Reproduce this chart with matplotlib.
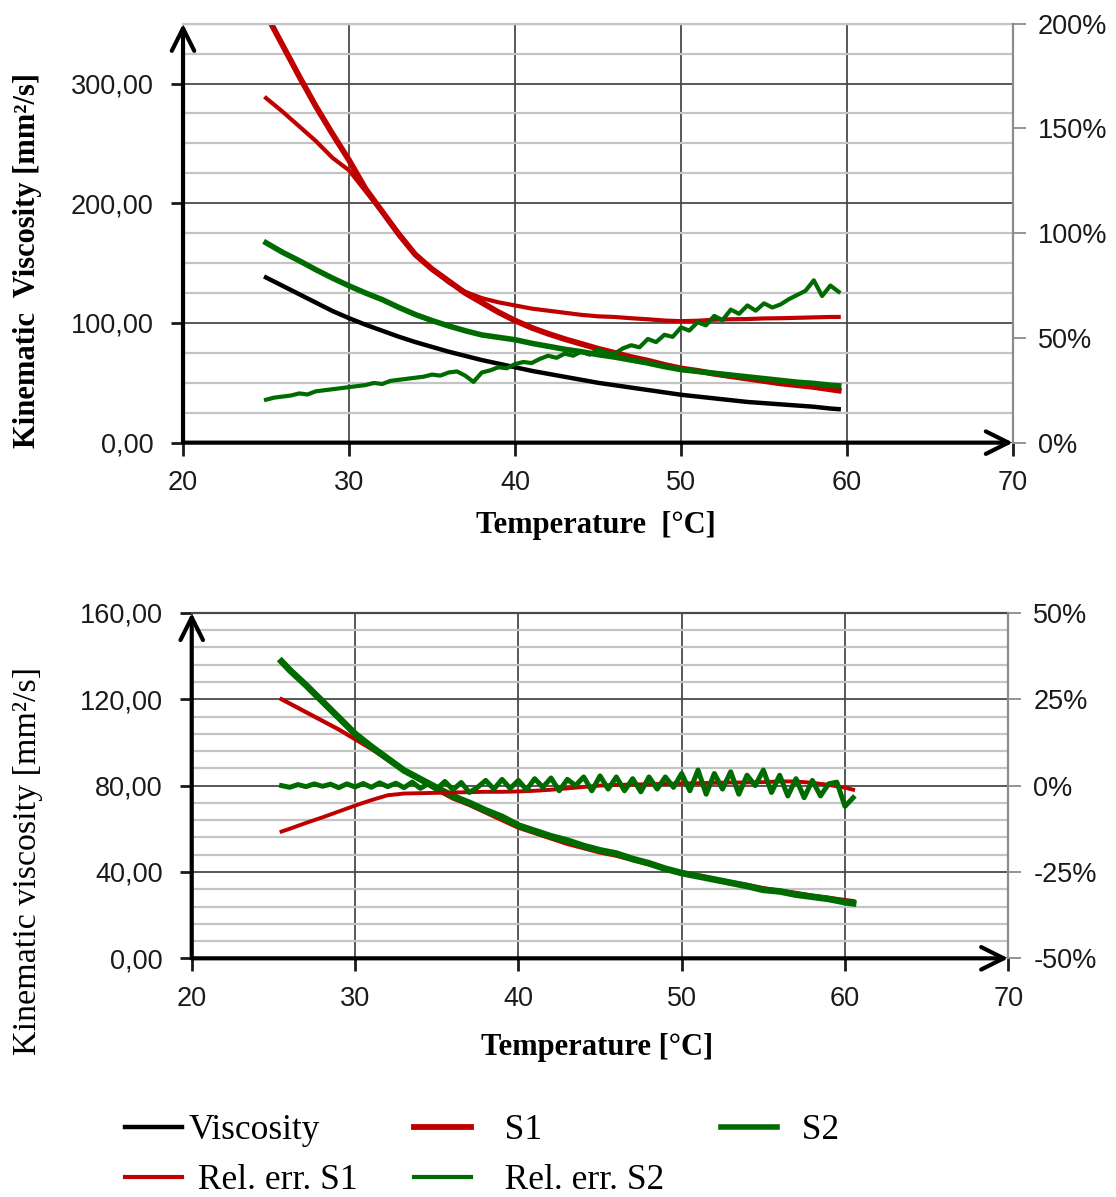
import matplotlib.pyplot as plt
from matplotlib.ticker import MultipleLocator, FuncFormatter

# ---- top chart data (temperature in degC) ----
temp_top = [25, 26, 27, 28, 29, 30, 31, 32, 33, 34, 35, 36, 37, 38, 39, 40, 41, 42,
            43, 44, 45, 46, 47, 48, 49, 50, 51, 52, 53, 54, 55, 56, 57, 58, 59, 59.5]
visc_top = [138, 131, 124, 117, 110, 104, 98.5, 93.5, 88.5, 84, 80, 76, 72.5, 69, 66, 63, 60, 57.5,
            55, 52.5, 50, 48, 46, 44, 42, 40, 38.5, 37, 35.5, 34, 33, 32, 31, 30, 28.5, 28]
s1_top = [358, 332, 306, 281, 258, 236, 212, 193, 174, 157, 145, 135, 125, 117, 109, 102, 96, 91,
          86.5, 82.5, 78.5, 75, 71.5, 68.5, 65, 62, 60, 57.5, 55.5, 53.5, 51.5, 49.5, 48, 46.5, 44.5, 43.5]
s2_top = [167, 159, 152, 144.5, 137.5, 131, 125, 119.5, 113, 107, 102, 97.5, 93.5, 90, 88, 86, 83, 80.5,
          78, 76, 73.5, 71.5, 69, 66.5, 63.5, 61, 59.5, 58, 56.5, 55, 53.5, 52, 50.5, 49.5, 48, 47.5]
err_s1_top = [164.5, 158, 151, 144, 136, 130, 120, 110, 100, 90, 83, 76.5, 72, 69, 67, 65.5, 64, 63,
              62, 61, 60.3, 60, 59.4, 58.9, 58.3, 58, 58.2, 58.7, 58.9, 59, 59.3, 59.4, 59.6, 59.8, 60, 60]

temp_err2_top = [25.0, 25.5, 26.0, 26.5, 27.0, 27.5, 28.0, 28.5, 29.0, 29.5, 30.0, 30.5, 31.0, 31.5,
                 32.0, 32.5, 33.0, 33.5, 34.0, 34.5, 35.0, 35.5, 36.0, 36.5, 37.0, 37.5, 38.0, 38.5,
                 39.0, 39.5, 40.0, 40.5, 41.0, 41.5, 42.0, 42.5, 43.0, 43.5, 44.0, 44.5, 45.0, 45.5,
                 46.0, 46.5, 47.0, 47.5, 48.0, 48.5, 49.0, 49.5, 50.0, 50.5, 51.0, 51.5, 52.0, 52.5,
                 53.0, 53.5, 54.0, 54.5, 55.0, 55.5, 56.0, 56.5, 57.0, 57.5, 58.0, 58.5, 59.0, 59.5]
err_s2_top = [20.5, 21.5, 22.0, 22.5, 23.5, 23.0, 24.5, 25.0, 25.5, 26.0, 26.5, 27.0, 27.5, 28.5,
              28.0, 29.5, 30.0, 30.5, 31.0, 31.5, 32.5, 32.0, 33.5, 34.0, 32.0, 29.0, 33.5, 34.5,
              36.0, 35.5, 37.5, 38.5, 38.0, 40.0, 41.5, 40.5, 42.5, 41.5, 43.5, 42.0, 44.5, 43.0,
              42.5, 45.0, 46.5, 45.5, 49.5, 48.0, 51.5, 50.5, 55.0, 53.5, 57.5, 56.0, 60.5, 58.5,
              63.5, 61.5, 65.5, 63.0, 66.5, 64.5, 66.0, 68.5, 70.5, 72.5, 77.5, 70.0, 75.0, 72.0]

# ---- bottom chart data ----
temp_bot = [25.5, 26, 27, 28, 29, 30, 31, 32, 33, 34, 35, 36, 37, 38, 39, 40, 41, 42, 43,
            44, 45, 46, 47, 48, 49, 50, 51, 52, 53, 54, 55, 56, 57, 58, 59, 60, 60.5]
visc_bot = [137.5, 134, 126.5, 119.5, 111.5, 104, 98, 92, 87, 83, 79, 75.5, 72, 68.5, 65, 61.5, 59, 56.5, 54,
            52, 50, 48, 46, 44, 41.5, 39.5, 38, 36.5, 35, 33.5, 32, 31, 30, 28.5, 27.5, 26.5, 26]
s1_bot = [120, 118, 114, 110, 106, 101.5, 97, 92, 87, 82.5, 78, 74, 71, 67.5, 64, 60.5, 58, 55.5, 53,
          51, 49, 47.5, 45.5, 43.5, 41.5, 39.7, 38.2, 36.8, 35.3, 34, 32.5, 31.3, 30.3, 29, 28, 27, 26.5]
s2_bot = [137.5, 133.5, 126.5, 119, 111.5, 104, 98, 92.5, 87, 83, 79, 75, 72, 68.5, 65.5, 61.5, 59, 56.5, 54.5,
          52, 50, 48.5, 46, 44, 41.5, 39.5, 38, 36.5, 35, 33.5, 31.7, 31, 29.5, 28.5, 27.5, 26, 25.5]
err_s1_bot = [-13.3, -12.5, -10.8, -9.2, -7.5, -5.8, -4.2, -2.8, -2.3, -2.2, -2.1, -2.0, -1.9, -1.8, -1.8,
              -1.7, -1.5, -1.2, -0.8, -0.4, 0.0, 0.2, 0.3, 0.4, 0.5, 0.6, 0.7, 0.8, 0.9, 0.9, 1.0, 1.2,
              1.2, 0.8, 0.2, -0.6, -1.2]

temp_err2_bot = [25.5, 26.0, 26.5, 27.0, 27.5, 28.0, 28.5, 29.0, 29.5, 30.0, 30.5, 31.0, 31.5, 32.0,
                 32.5, 33.0, 33.5, 34.0, 34.5, 35.0, 35.5, 36.0, 36.5, 37.0, 37.5, 38.0, 38.5, 39.0,
                 39.5, 40.0, 40.5, 41.0, 41.5, 42.0, 42.5, 43.0, 43.5, 44.0, 44.5, 45.0, 45.5, 46.0,
                 46.5, 47.0, 47.5, 48.0, 48.5, 49.0, 49.5, 50.0, 50.5, 51.0, 51.5, 52.0, 52.5, 53.0,
                 53.5, 54.0, 54.5, 55.0, 55.5, 56.0, 56.5, 57.0, 57.5, 58.0, 58.5, 59.0, 59.5, 60.0, 60.5]
err_s2_bot = [0.0, -0.5, 0.3, -0.3, 0.5, -0.2, 0.4, -0.6, 0.5, -0.4, 0.6, -0.5, 0.8, -0.3,
              0.7, -0.6, 1.0, -0.8, 0.6, -1.0, 1.2, -1.2, 0.9, -2.0, -0.5, 1.5, -1.0, 1.8,
              -0.8, 1.5, -1.2, 2.0, -0.5, 2.2, -1.5, 1.8, 0.0, 2.5, -1.5, 2.8, -1.0, 2.5,
              -1.5, 2.0, -1.8, 2.5, -1.0, 2.5, -0.5, 3.5, -1.5, 4.5, -2.5, 3.5, -1.0, 4.0,
              -2.5, 3.0, 0.0, 4.5, -2.0, 3.0, -3.0, 2.0, -3.5, 1.5, -3.0, 0.5, 1.0, -6.0, -3.5]

RED = '#c00000'
GREEN = '#006b00'
DARK = '#4a4a4a'
LIGHT = '#c4c4c4'
GRAY = '#8c8c8c'
SERIF = 'Liberation Serif'

plt.rcParams['font.family'] = 'Liberation Sans'

fig = plt.figure(figsize=(11.16, 11.97), dpi=100)


def comma_fmt(v, pos):
    return f'{v:.2f}'.replace('.', ',')


def style_axes(ax, ax2, ymax, ymajor, yminor, top_color, rmin, rmax, rstep):
    ax.set_xlim(20, 70)
    ax.set_ylim(0, ymax)
    ax.set_xticks([20, 30, 40, 50, 60, 70])
    ax.yaxis.set_major_locator(MultipleLocator(ymajor))
    ax.yaxis.set_minor_locator(MultipleLocator(yminor))
    ax.yaxis.set_major_formatter(FuncFormatter(comma_fmt))
    ax.grid(which='minor', axis='y', color=LIGHT, lw=1.6)
    ax.grid(which='major', color=DARK, lw=1.3)
    ax.xaxis.get_gridlines()[-1].set_visible(False)
    ax.set_axisbelow(True)
    ax.tick_params(axis='y', which='major', direction='out', length=9, width=2,
                   labelsize=19.5, pad=12, colors='#1a1a1a')
    ax.tick_params(axis='y', which='minor', length=0)
    ax.tick_params(axis='x', direction='out', length=9, width=2, labelsize=19.5, pad=11,
                   colors='#1a1a1a')
    for s in ['left', 'bottom', 'right']:
        ax.spines[s].set_visible(False)
    ax.spines['top'].set_color(top_color)
    ax.spines['top'].set_linewidth(1.6)
    arrow = dict(arrowstyle='->,head_length=0.9,head_width=0.45', lw=3, color='black',
                 shrinkA=0, shrinkB=0, mutation_scale=18)
    ax.annotate('', xy=(0, 1.0), xytext=(0, 0), xycoords='axes fraction',
                arrowprops=arrow, annotation_clip=False)
    ax.annotate('', xy=(1.0, 0), xytext=(0, 0), xycoords='axes fraction',
                arrowprops=arrow, annotation_clip=False)

    ax2.set_ylim(rmin, rmax)
    ax2.set_yticks(list(range(rmin, rmax + 1, rstep)))
    ax2.yaxis.set_major_formatter(FuncFormatter(lambda v, p: f'{v:.0f}%'))
    ax2.tick_params(axis='y', direction='out', length=9, width=1.3, color=GRAY,
                    labelcolor='#1a1a1a', labelsize=19.5, pad=9)
    for s in ['left', 'bottom', 'top']:
        ax2.spines[s].set_visible(False)
    ax2.spines['right'].set_color(GRAY)
    ax2.spines['right'].set_linewidth(1.6)


# ---------------- top chart ----------------
ax1 = fig.add_axes([0.164, 0.6302, 0.7437, 0.3500])
ax1r = ax1.twinx()
style_axes(ax1, ax1r, 350, 100, 25, LIGHT, 0, 200, 50)

h_visc, = ax1.plot(temp_top, visc_top, color='black', lw=3.2)
h_s1, = ax1.plot(temp_top, s1_top, color=RED, lw=4.2)
h_s2, = ax1.plot(temp_top, s2_top, color=GREEN, lw=4.0)
h_e1, = ax1r.plot(temp_top, err_s1_top, color=RED, lw=3.0)
h_e2, = ax1r.plot(temp_err2_top, err_s2_top, color=GREEN, lw=3.0)

fig.text(28 / 1116, 1 - 261 / 1197, 'Kinematic  Viscosity [mm²/s]', rotation=90,
         ha='center', va='center', family=SERIF, fontweight='bold', fontsize=22)
fig.text(596 / 1116, 1 - 526 / 1197, 'Temperature  [°C]', ha='center', va='center',
         family=SERIF, fontweight='bold', fontsize=22)

# ---------------- bottom chart ----------------
ax2 = fig.add_axes([0.1718, 0.1994, 0.7317, 0.2886])
ax2r = ax2.twinx()
style_axes(ax2, ax2r, 160, 40, 8, DARK, -50, 50, 25)

ax2.plot(temp_bot, visc_bot, color='black', lw=3.2)
ax2.plot(temp_bot, s1_bot, color=RED, lw=3.0)
ax2.plot(temp_bot, s2_bot, color=GREEN, lw=4.8)
ax2r.plot(temp_bot, err_s1_bot, color=RED, lw=2.8)
ax2r.plot(temp_err2_bot, err_s2_bot, color=GREEN, lw=3.6)

fig.text(28 / 1116, 1 - 861 / 1197, 'Kinematic viscosity [mm²/s]', rotation=90,
         ha='center', va='center', family=SERIF, fontsize=24.5)
fig.text(597 / 1116, 1 - 1047 / 1197, 'Temperature [°C]', ha='center', va='center',
         family=SERIF, fontweight='bold', fontsize=22)

# ---------------- legend ----------------
fig.legend(handles=[h_visc, h_e1, h_s1, h_e2, h_s2],
           labels=['Viscosity', ' Rel. err. S1', '   S1', '   Rel. err. S2', '  S2'],
           ncol=3, loc='upper left', bbox_to_anchor=(125 / 1116, 1 - 1114 / 1197),
           frameon=False, prop={'family': SERIF, 'size': 25.5}, handlelength=1.6,
           handletextpad=0.2, columnspacing=1.6, labelspacing=0.48, borderpad=0,
           borderaxespad=0)

fig.savefig('out.png', dpi=100)
